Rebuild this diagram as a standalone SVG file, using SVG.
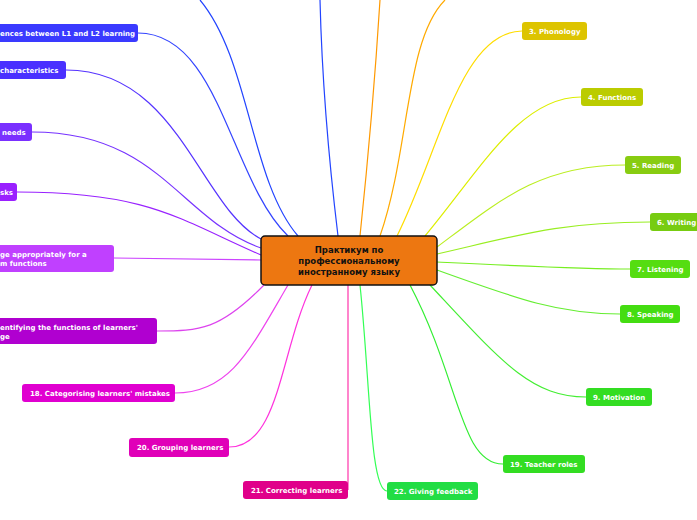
<svg xmlns="http://www.w3.org/2000/svg" width="697" height="520" viewBox="0 0 697 520">
<defs>
<style>
.t{font-family:"DejaVu Sans",Verdana,sans-serif;font-weight:bold;font-size:7px;fill:#fff}
.c{fill:none;stroke-width:1.2}
.n{stroke:none}
</style>
</defs>
<rect width="697" height="520" fill="#fff"/>
<g id="connectors">
<path class="c" stroke="#2244ff" d="M298,236 C250,180 250,60 200,0"/>
<path class="c" stroke="#2244ff" d="M338,236 C330,170 322,80 320,0"/>
<path class="c" stroke="#ff9900" d="M360,236 C368,160 375,80 380,0"/>
<path class="c" stroke="#ffaa00" d="M380,236 C410,150 405,40 445,0"/>
<path class="c" stroke="#ffdd00" d="M397,236 C440,150 460,32 522,31"/>
<path class="c" stroke="#ddee00" d="M425,236 C480,170 520,97 581,97"/>
<path class="c" stroke="#bbee22" d="M437,247 C500,200 540,165 625,165"/>
<path class="c" stroke="#99ee22" d="M437,254 C520,235 560,222 650,222"/>
<path class="c" stroke="#77ee22" d="M437,262 C520,266 580,269 630,269"/>
<path class="c" stroke="#66ee33" d="M437,270 C520,300 560,314 620,314"/>
<path class="c" stroke="#44ee33" d="M430,285 C500,360 530,397 586,397"/>
<path class="c" stroke="#33ee33" d="M410,285 C460,380 460,464 503,464"/>
<path class="c" stroke="#33ff55" d="M360,285 C370,380 370,491 387,491"/>
<path class="c" stroke="#ff33aa" d="M348,285 L348,490"/>
<path class="c" stroke="#ff33dd" d="M312,285 C280,350 280,447 229,447"/>
<path class="c" stroke="#ee44ee" d="M288,285 C250,350 230,393 175,393"/>
<path class="c" stroke="#dd44ee" d="M264,285 C220,330 200,331 157,331"/>
<path class="c" stroke="#cc44ff" d="M261,260 L114,258"/>
<path class="c" stroke="#9922ff" d="M261,255 C180,220 150,192 17,192"/>
<path class="c" stroke="#7733ff" d="M261,248 C180,220 160,132 32,132"/>
<path class="c" stroke="#5533ff" d="M263,240 C200,210 180,70 66,70"/>
<path class="c" stroke="#3344ff" d="M288,236 C230,180 220,33 138,33"/>
</g>
<g id="center"><rect x="261" y="236" width="176" height="49" rx="4" fill="#ed7711" stroke="#111" stroke-width="1.5"/>
<text class="t" style="fill:#111;font-size:8.5px" text-anchor="middle" x="349" y="253">Практикум по</text>
<text class="t" style="fill:#111;font-size:8.5px" text-anchor="middle" x="349" y="264">профессиональному</text>
<text class="t" style="fill:#111;font-size:8.5px" text-anchor="middle" x="349" y="275">иностранному языку</text></g>
<g id="n13"><rect x="-10" y="24" width="148" height="18" rx="3" fill="#3a3aff"/><text class="t" x="0" y="36">ences between L1 and L2 learning</text></g>
<g id="n14"><rect x="-10" y="61" width="76" height="18" rx="3" fill="#4a30ff"/><text class="t" x="0" y="73">characteristics</text></g>
<g id="n15"><rect x="-10" y="123" width="42" height="18" rx="3" fill="#7a30ff"/><text class="t" x="2" y="135">needs</text></g>
<g id="n16"><rect x="-10" y="183" width="27" height="18" rx="3" fill="#9a20ff"/><text class="t" x="0" y="195">sks</text></g>
<g id="n17"><rect x="-10" y="245" width="124" height="27" rx="3" fill="#c040ff"/><text class="t" x="0" y="257">ge appropriately for a</text><text class="t" x="0" y="266">m functions</text></g>
<g id="n18b"><rect x="-10" y="318" width="167" height="26" rx="3" fill="#b000d0"/><text class="t" x="0" y="330">entifying the functions of learners'</text><text class="t" x="0" y="339">ge</text></g>
<g id="n18"><rect x="22" y="384" width="153" height="18" rx="3" fill="#e000d0"/><text class="t" x="30" y="396">18. Categorising learners' mistakes</text></g>
<g id="n20"><rect x="129" y="438" width="100" height="19" rx="3" fill="#e000b8"/><text class="t" x="137" y="450">20. Grouping learners</text></g>
<g id="n21"><rect x="243" y="481" width="105" height="18" rx="3" fill="#e0008a"/><text class="t" x="251" y="493">21. Correcting learners</text></g>
<g id="n22"><rect x="387" y="482" width="91" height="18" rx="3" fill="#22dd44"/><text class="t" x="394" y="494">22. Giving feedback</text></g>
<g id="n19"><rect x="503" y="455" width="82" height="18" rx="3" fill="#33dd22"/><text class="t" x="510" y="467">19. Teacher roles</text></g>
<g id="n9"><rect x="586" y="388" width="66" height="18" rx="3" fill="#33dd22"/><text class="t" x="593" y="400">9. Motivation</text></g>
<g id="n8"><rect x="620" y="305" width="60" height="18" rx="3" fill="#44dd11"/><text class="t" x="627" y="317">8. Speaking</text></g>
<g id="n7"><rect x="630" y="260" width="60" height="18" rx="3" fill="#55dd11"/><text class="t" x="637" y="272">7. Listening</text></g>
<g id="n6"><rect x="650" y="213" width="57" height="18" rx="3" fill="#77cc11"/><text class="t" x="657" y="225">6. Writing</text></g>
<g id="n5"><rect x="625" y="156" width="56" height="18" rx="3" fill="#88cc11"/><text class="t" x="632" y="168">5. Reading</text></g>
<g id="n4"><rect x="581" y="88" width="62" height="18" rx="3" fill="#bbcc00"/><text class="t" x="588" y="100">4. Functions</text></g>
<g id="n3"><rect x="522" y="22" width="65" height="18" rx="3" fill="#ddc400"/><text class="t" x="529" y="34">3. Phonology</text></g>
</svg>
